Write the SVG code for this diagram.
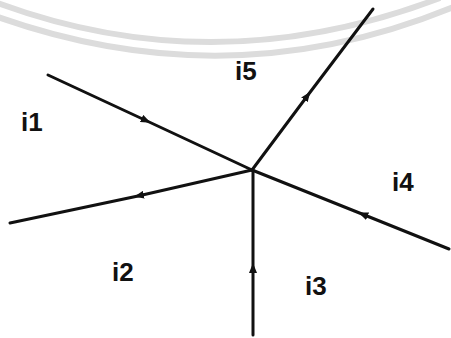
<svg xmlns="http://www.w3.org/2000/svg" width="451" height="338" viewBox="0 0 451 338">
<defs>
<style>
.wm{fill:none;stroke:#dcdcdc;stroke-width:6}
.wire{fill:none;stroke:#111;stroke-width:3;stroke-linecap:round;marker-mid:url(#arr)}
.lbl{font-family:"Liberation Sans",Arial,sans-serif;font-weight:bold;font-size:26px;fill:#111}
</style>
<marker id="arr" viewBox="0 0 10 8" refX="6" refY="4" markerWidth="10" markerHeight="8" markerUnits="userSpaceOnUse" orient="auto">
<path d="M0,0 L10,4 L0,8 z" fill="#111"/>
</marker>
</defs>
<rect width="451" height="338" fill="#fff"/>
<g id="watermark">
<path class="wm" d="M-5,2 Q215,84 440,-2"/>
<path class="wm" d="M-5,16 Q230,100 456,6"/>
</g>
<g id="connectors">
<path id="w1" class="wire" d="M48,75 L147,121 L252,170"/>
<path id="w5" class="wire" d="M252,170 L308,95 L373,9"/>
<path id="w4" class="wire" d="M449,249 L362,214 L252,170"/>
<path id="w3" class="wire" d="M253,335 L253,267 L253,170"/>
<path id="w2" class="wire" d="M252,170 L138,196 L10,223"/>
</g>
<g id="n-i1"><text class="lbl" x="21" y="131">i1</text></g>
<g id="n-i5"><text class="lbl" x="235" y="80">i5</text></g>
<g id="n-i4"><text class="lbl" x="392" y="191">i4</text></g>
<g id="n-i2"><text class="lbl" x="112" y="281">i2</text></g>
<g id="n-i3"><text class="lbl" x="305" y="295">i3</text></g>
</svg>
